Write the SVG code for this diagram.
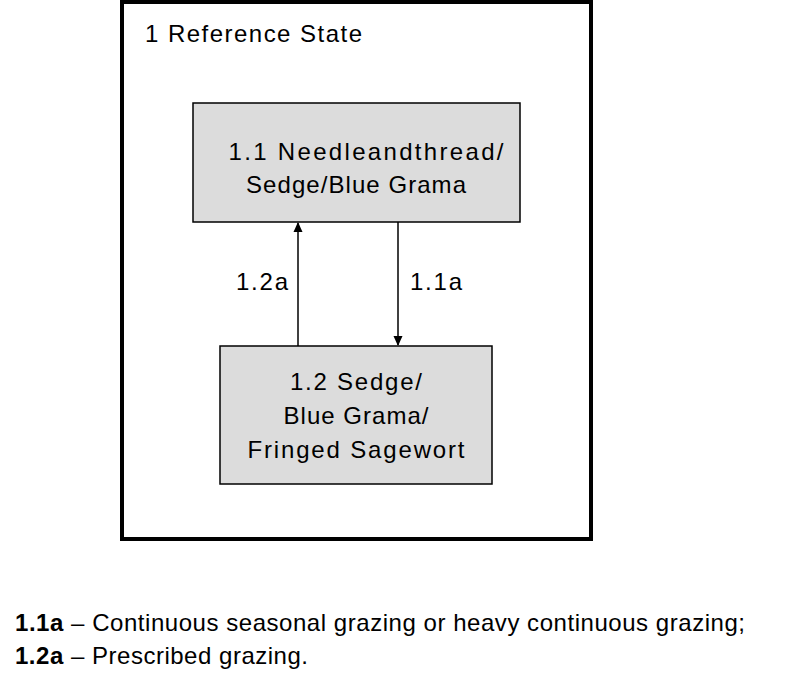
<svg xmlns="http://www.w3.org/2000/svg" width="800" height="680" viewBox="0 0 800 680">
<style>
text{font-family:"Liberation Sans",Arial,sans-serif;font-size:24px;fill:#000}
.box{fill:#dcdcdc;stroke:#000;stroke-width:1.5}
.c{text-anchor:middle}
</style>
<defs><marker id="ah" markerWidth="10" markerHeight="12" refX="9" refY="6" orient="auto" markerUnits="userSpaceOnUse"><path d="M0,1.5 L10,6 L0,10.5 z" fill="#000"/></marker></defs>
<rect width="800" height="680" fill="#fff"/>
<g id="state1"><rect x="122" y="2" width="469" height="537" fill="none" stroke="#000" stroke-width="4"/><text x="145" y="42" textLength="217">1 Reference State</text></g>
<g id="n11"><rect class="box" x="193" y="103" width="327" height="119"/><text class="c" x="366" y="160" textLength="275">1.1 Needleandthread/</text><text class="c" x="356" y="193" textLength="220">Sedge/Blue Grama</text></g>
<g id="n12"><rect class="box" x="220" y="346" width="272" height="138"/><text class="c" x="356" y="390" textLength="132">1.2 Sedge/</text><text class="c" x="356" y="424" textLength="145">Blue Grama/</text><text class="c" x="356" y="458" textLength="217">Fringed Sagewort</text></g>
<g id="connectors" stroke="#000" stroke-width="1.5">
<line x1="298" y1="346" x2="298" y2="223" marker-end="url(#ah)"/>
<line x1="398" y1="222" x2="398" y2="345" marker-end="url(#ah)"/>
</g>
<text x="236" y="290" textLength="52">1.2a</text><text x="410" y="290" textLength="52">1.1a</text>
<text x="15" y="631" textLength="730"><tspan font-weight="bold">1.1a</tspan> – Continuous seasonal grazing or heavy continuous grazing;</text>
<text x="15" y="664" textLength="293"><tspan font-weight="bold">1.2a</tspan> – Prescribed grazing.</text>
</svg>
